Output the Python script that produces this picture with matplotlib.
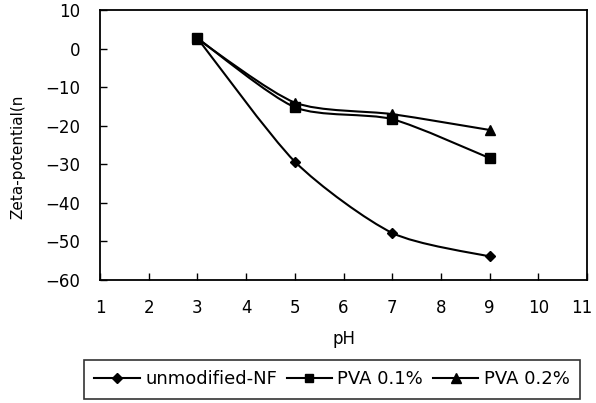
import matplotlib
matplotlib.use("Agg")
import matplotlib.pyplot as plt
import numpy as np
from matplotlib.path import Path
from matplotlib.patches import PathPatch
from matplotlib.lines import Line2D
from matplotlib.transforms import ScaledTranslation

plt.rcParams['font.family'] = ['DejaVu Sans']

ph = [3, 5, 7, 9]
unmodified = [2.7, -29.3, -47.8, -53.9]
pva01 = [2.7, -15.2, -18.3, -28.4]
pva02 = [2.5, -14.0, -17.0, -21.1]
series_names = ["unmodified-NF", "PVA 0.1%", "PVA 0.2%"]
markers = ["D", "s", "^"]
msizes = [5.5, 6.5, 7]
xticks = list(range(1, 12))
yticks = list(range(-60, 11, 10))


def smooth_path(xs, ys, k=8.0):
    pts = np.column_stack([xs, ys]).astype(float)
    n = len(pts)
    verts = [pts[0]]
    codes = [Path.MOVETO]
    for i in range(n - 1):
        p0 = pts[i - 1] if i > 0 else pts[i]
        p1 = pts[i]
        p2 = pts[i + 1]
        p3 = pts[i + 2] if i + 2 < n else pts[i + 1]
        c1 = p1 + (p2 - p0) / k
        c2 = p2 - (p3 - p1) / k
        verts += [c1, c2, p2]
        codes += [Path.CURVE4] * 3
    return Path(verts, codes)


fig = plt.figure(figsize=(5.96, 4.03), dpi=100)
ax = fig.add_axes([100 / 596, 1 - 280 / 403, 487 / 596, 270 / 403])

handles = []
for ys, name, m, ms in zip([unmodified, pva01, pva02], series_names, markers, msizes):
    patch = PathPatch(smooth_path(ph, ys), facecolor='none', edgecolor='black', lw=1.5)
    ax.add_patch(patch)
    ax.plot(ph, ys, linestyle='none', marker=m, markersize=ms, color='black')
    handles.append(Line2D([], [], color='black', lw=1.5, marker=m, markersize=ms - 0.5))

ax.set_xlim(1, 11)
ax.set_ylim(-60, 10)
ax.set_xticks(xticks)
ax.set_yticks(yticks)
ax.tick_params(direction='in', length=5, width=1, labelsize=12, pad=14)
for s in ax.spines.values():
    s.set_linewidth(1.3)

# nudge the last x tick label inward like the reference
last = ax.get_xticklabels()[-1]
last.set_transform(last.get_transform() + ScaledTranslation(-5 / 100, 0, fig.dpi_scale_trans))

ax.set_xlabel("pH", fontsize=12)
ax.xaxis.set_label_coords(0.5, -0.22)
ax.xaxis.label.set_va('center')
ax.set_ylabel("Zeta-potential(n", fontsize=11)
ax.yaxis.set_label_coords(-0.168, 0.455)
ax.yaxis.label.set_va('center')

leg = fig.legend(handles, series_names, loc='center', ncol=3,
                 bbox_to_anchor=(332 / 596, 1 - 379.5 / 403),
                 bbox_transform=fig.transFigure, fontsize=13,
                 frameon=True, fancybox=False, edgecolor='black',
                 handlelength=2.5, handletextpad=0.3, columnspacing=0.55,
                 borderpad=0.6, borderaxespad=0)
leg.get_frame().set_linewidth(1.2)

fig.savefig("out.png", dpi=100)
